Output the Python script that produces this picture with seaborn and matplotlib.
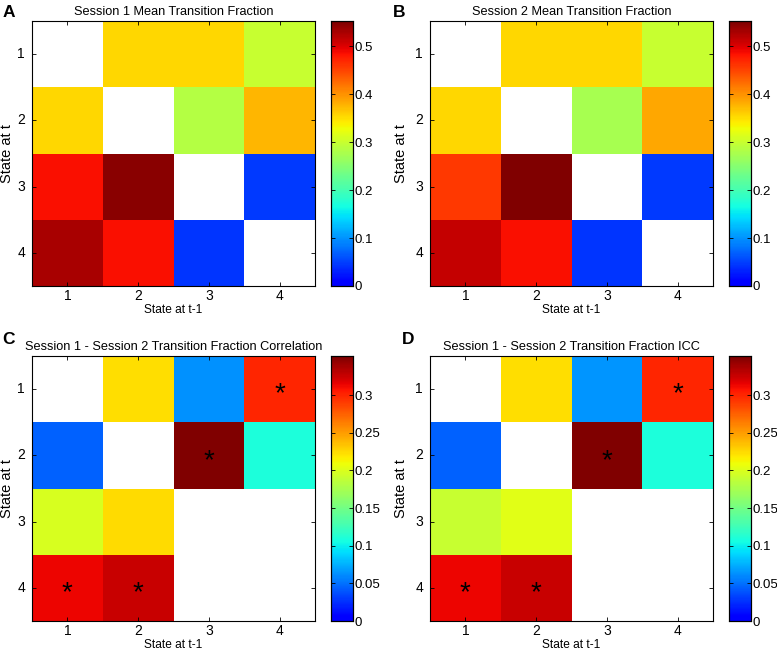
import numpy as np
import matplotlib
matplotlib.use('Agg')
import matplotlib.pyplot as plt
import seaborn as sns
from matplotlib.colors import LinearSegmentedColormap
from matplotlib.transforms import offset_copy

STATES = ['1', '2', '3', '4']
nan = np.nan

# rows: state at t, cols: state at t-1
session1_mean = [
    [nan, 0.356, 0.356, 0.300],
    [0.356, nan, 0.284, 0.376],
    [0.485, 0.546, nan, 0.047],
    [0.528, 0.485, 0.043, nan],
]
session2_mean = [
    [nan, 0.356, 0.356, 0.300],
    [0.356, nan, 0.276, 0.385],
    [0.458, 0.553, nan, 0.047],
    [0.516, 0.485, 0.043, nan],
]
corr_values = [
    [nan, 0.222, 0.062, 0.301],
    [0.044, nan, 0.352, 0.109],
    [0.198, 0.225, nan, nan],
    [0.314, 0.326, nan, nan],
]
icc_values = [
    [nan, 0.222, 0.064, 0.301],
    [0.045, nan, 0.352, 0.109],
    [0.190, 0.203, nan, nan],
    [0.314, 0.326, nan, nan],
]
# significant cells (row, col)
sig_cells = [(0, 3), (1, 2), (3, 0), (3, 1)]

mean_ticks = [0, 0.1, 0.2, 0.3, 0.4, 0.5]
mean_ticklabels = ['0', '0.1', '0.2', '0.3', '0.4', '0.5']
rel_ticks = [0, 0.05, 0.1, 0.15, 0.2, 0.25, 0.3]
rel_ticklabels = ['0', '0.05', '0.1', '0.15', '0.2', '0.25', '0.3']

PANELS = [
    ('A', 'Session 1 Mean Transition Fraction', session1_mean, 0.553, False, mean_ticks, mean_ticklabels),
    ('B', 'Session 2 Mean Transition Fraction', session2_mean, 0.553, False, mean_ticks, mean_ticklabels),
    ('C', 'Session 1 - Session 2 Transition Fraction Correlation', corr_values, 0.352, True, rel_ticks, rel_ticklabels),
    ('D', 'Session 1 - Session 2 Transition Fraction ICC', icc_values, 0.352, True, rel_ticks, rel_ticklabels),
]

# pixel boxes (left, top, right, bottom) on the 777x652 canvas
W, H = 777, 652
AX_BOX = [(32, 21, 315, 286), (430, 21, 713, 286), (32, 356, 315, 621), (430, 356, 713, 621)]
CB_BOX = [(331, 21, 353, 286), (729, 21, 751, 286), (331, 356, 353, 621), (729, 356, 751, 621)]
LETTER_POS = [(3, 17), (393, 17), (2, 344), (402, 344)]
YLABEL_X = [-0.062, -0.078, -0.062, -0.076]


def to_rect(box):
    l, t, r, b = box
    return [l / W, 1 - b / H, (r - l) / W, (b - t) / H]


# matlab-like jet that starts at bright blue
jet = plt.get_cmap('jet')
cmap = LinearSegmentedColormap.from_list('jet_bright', jet(np.linspace(0.11, 1.0, 256)))

plt.rcParams['font.family'] = ['Liberation Sans', 'DejaVu Sans']
plt.rcParams['font.size'] = 9.5

fig = plt.figure(figsize=(W / 100, H / 100), dpi=100)

stars = np.full((4, 4), '', dtype=object)
for r, c in sig_cells:
    stars[r, c] = '*'

STAR_SIZE = 20

for i, (letter, title, values, vmax, show_stars, cticks, clabels) in enumerate(PANELS):
    data = np.array(values, dtype=float)
    ax = fig.add_axes(to_rect(AX_BOX[i]))
    cax = fig.add_axes(to_rect(CB_BOX[i]))
    star_tr = offset_copy(ax.transData, fig=fig, x=0, y=-0.2 * STAR_SIZE, units='points')
    sns.heatmap(data, ax=ax, cbar_ax=cax, cmap=cmap, vmin=0, vmax=vmax,
                mask=np.isnan(data), xticklabels=STATES, yticklabels=STATES,
                annot=stars if show_stars else None, fmt='',
                annot_kws={'color': 'black', 'fontsize': STAR_SIZE, 'transform': star_tr})
    ax.set_facecolor('white')
    for s in ax.spines.values():
        s.set_visible(True)
        s.set_color('black')
        s.set_linewidth(0.8)
    ax.tick_params(direction='in', length=3, top=True, right=True,
                   labelsize=10, width=0.6)
    ax.tick_params(axis='x', pad=2)
    ax.tick_params(axis='y', pad=5)
    ax.set_yticklabels(STATES, rotation=0)
    ax.set_xlabel('State at t-1', fontsize=8.6, labelpad=1)
    ax.set_ylabel('State at t', fontsize=10.5)
    ax.yaxis.set_label_coords(YLABEL_X[i], 0.5)
    ax.set_title(title, fontsize=9.2, pad=4)
    lx, ly = LETTER_POS[i]
    fig.text(lx / W, 1 - ly / H, letter, fontsize=12.5, fontweight='bold',
             ha='left', va='baseline')

    cax.yaxis.set_ticks(cticks)
    cax.yaxis.set_ticklabels(clabels)
    cax.tick_params(direction='in', length=3, left=True, right=True,
                    labelsize=9.5, width=0.6, pad=1)
    for s in cax.spines.values():
        s.set_visible(True)
        s.set_color('black')
        s.set_linewidth(0.8)

fig.savefig('out.png', dpi=100, facecolor='white')
